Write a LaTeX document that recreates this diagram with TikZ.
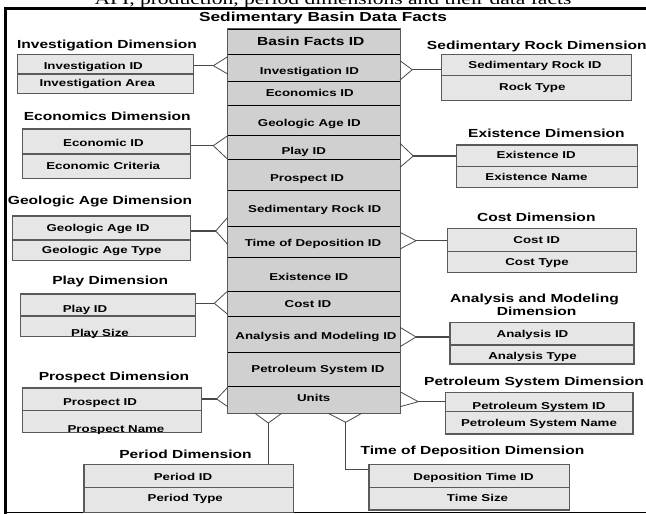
\documentclass[tikz,border=0pt]{standalone}
\usepackage{fontspec}
\usetikzlibrary{fit}
\newfontfamily\dfont[FakeStretch=1.33]{Liberation Sans}
\newfontfamily\cfont[FakeStretch=1.33]{Liberation Serif}
\definecolor{dimfill}{HTML}{E6E6E6}
\definecolor{factfill}{HTML}{D0D0D0}
\definecolor{edge}{HTML}{5A5A5A}
\definecolor{conn}{HTML}{484848}
\begin{document}
\begin{tikzpicture}[x=1pt,y=-1pt,
  dcell/.style={draw=edge, fill=dimfill, line width=1.1pt, inner sep=0pt},
  fcell/.style={draw=black, fill=factfill, line width=0.9pt, inner sep=0pt},
  ft/.style={font=\dfont\bfseries\fontsize{10}{12}\selectfont, inner sep=0pt, text height=7.2pt, text depth=0pt},
  tt/.style={font=\dfont\bfseries\fontsize{11.7}{14}\selectfont, inner sep=0pt, text height=8.4pt, text depth=0pt},
  bigt/.style={font=\dfont\bfseries\fontsize{13}{15}\selectfont, inner sep=0pt, text height=9.3pt, text depth=0pt},
  cn/.style={draw=conn, line width=1.1pt},
  cf/.style={draw=conn, line width=0.8pt},
  frame/.style={draw=black}
]
\useasboundingbox (0,0) rectangle (646,514);

% caption (cut at top) and frame
\node[anchor=base, font=\cfont\fontsize{16.2}{18}\selectfont, inner sep=0pt] (cap) at (333,4.5) {API, production, period dimensions and their data facts};
\draw[frame, line width=2.7pt] (4,8.7) -- (652,8.7);
\draw[frame, line width=3.2pt] (5.6,7.4) -- (5.6,513.5);
\draw[frame, line width=1.3pt] (4,512.4) -- (652,512.4);

\node[bigt] (title) at (323,17) {Sedimentary Basin Data Facts};

% ---------- fact table ----------
\node[fcell, fit={(227.7,29) (400,54)}] (r0) {};
\node[fcell, fit={(227.7,54) (400,81)}] (r1) {};
\node[fcell, fit={(227.7,81) (400,105)}] (r2) {};
\node[fcell, fit={(227.7,105) (400,135.7)}] (r3) {};
\node[fcell, fit={(227.7,135.7) (400,159.3)}] (r4) {};
\node[fcell, fit={(227.7,159.3) (400,190)}] (r5) {};
\node[fcell, fit={(227.7,190) (400,226.7)}] (r6) {};
\node[fcell, fit={(227.7,226.7) (400,257.5)}] (r7) {};
\node[fcell, fit={(227.7,257.5) (400,291)}] (r8) {};
\node[fcell, fit={(227.7,291) (400,316.7)}] (r9) {};
\node[fcell, fit={(227.7,316.7) (400,352.3)}] (r10) {};
\node[fcell, fit={(227.7,352.3) (400,386.7)}] (r11) {};
\node[fcell, fit={(227.7,386.7) (400,413.3)}] (r12) {};
\draw[draw=edge, line width=1.3pt] (r0.north west) rectangle (r12.south east);

\node[tt] (t0) at (310.8,41) {Basin Facts ID};
\node[ft] (t1) at (309.5,70.7) {Investigation ID};
\node[ft] (t2) at (309.8,93.3) {Economics ID};
\node[ft] (t3) at (309.3,122.7) {Geologic Age ID};
\node[ft] (t4) at (303.7,150.7) {Play ID};
\node[ft] (t5) at (307,177.7) {Prospect ID};
\node[ft] (t6) at (314.7,209.3) {Sedimentary Rock ID};
\node[ft] (t7) at (313,243.3) {Time of Deposition ID};
\node[ft] (t8) at (308.8,276.7) {Existence ID};
\node[ft] (t9) at (308,304.3) {Cost ID};
\node[ft] (t10) at (316,336) {Analysis and Modeling ID};
\node[ft] (t11) at (318,369.3) {Petroleum System ID};
\node[ft] (t12) at (313.7,398.3) {Units};

% ---------- left dimensions ----------
\node[tt] (invH) at (107,44) {Investigation Dimension};
\node[dcell, fit={(17.3,54.3) (193.3,74)}] (inv1) {};
\node[dcell, fit={(17.3,74) (193.3,93.3)}] (inv2) {};
\node[ft] (invA) at (93.3,65.7) {Investigation ID};
\node[ft] (invB) at (97.3,83.3) {Investigation Area};

\node[tt] (ecoH) at (107.3,116.7) {Economics Dimension};
\node[dcell, fit={(22.3,129) (190.7,154)}] (eco1) {};
\node[dcell, fit={(22.3,154) (190.7,178.3)}] (eco2) {};
\node[ft] (ecoA) at (103.5,143.3) {Economic ID};
\node[ft] (ecoB) at (103.2,165.7) {Economic Criteria};

\node[tt] (gaH) at (100,200) {Geologic Age Dimension};
\node[dcell, fit={(12.3,216) (190.7,240)}] (ga1) {};
\node[dcell, fit={(12.3,240) (190.7,260.7)}] (ga2) {};
\node[ft] (gaA) at (98,227.7) {Geologic Age ID};
\node[ft] (gaB) at (101.7,250) {Geologic Age Type};

\node[tt] (plH) at (110.2,280.7) {Play Dimension};
\node[dcell, fit={(20.7,294) (195.7,316)}] (pl1) {};
\node[dcell, fit={(20.7,316) (195.7,336.7)}] (pl2) {};
\node[ft] (plA) at (85,309) {Play ID};
\node[ft] (plB) at (100,332.5) {Play Size};

\node[tt] (prH) at (114,376) {Prospect Dimension};
\node[dcell, fit={(22.6,388) (201.6,410.7)}] (pr1) {};
\node[dcell, fit={(22.6,410.7) (201.6,432.7)}] (pr2) {};
\node[ft] (prA) at (100,401.7) {Prospect ID};
\node[ft] (prB) at (116,428.8) {Prospect Name};

% ---------- right dimensions ----------
\node[tt] (srH) at (536.8,45) {Sedimentary Rock Dimension};
\node[dcell, fit={(441.7,54.3) (631.7,75.7)}] (sr1) {};
\node[dcell, fit={(441.7,75.7) (631.7,100.7)}] (sr2) {};
\node[ft] (srA) at (535,65) {Sedimentary Rock ID};
\node[ft] (srB) at (532.3,86.7) {Rock Type};

\node[tt] (exH) at (546.5,133.3) {Existence Dimension};
\node[dcell, fit={(456.7,145) (637.3,166.7)}] (ex1) {};
\node[dcell, fit={(456.7,166.7) (637.3,187.3)}] (ex2) {};
\node[ft] (exA) at (536.2,155) {Existence ID};
\node[ft] (exB) at (536.5,176.7) {Existence Name};

\node[tt] (coH) at (536.3,217.3) {Cost Dimension};
\node[dcell, fit={(447.7,228.3) (636.7,251.7)}] (co1) {};
\node[dcell, fit={(447.7,251.7) (636.7,272.3)}] (co2) {};
\node[ft] (coA) at (536.7,240) {Cost ID};
\node[ft] (coB) at (537,261.7) {Cost Type};

\node[tt] (anH) at (534.5,298.3) {Analysis and Modeling};
\node[tt] (anH2) at (536.7,311) {Dimension};
\node[dcell, fit={(450,322.3) (634,345)}] (an1) {};
\node[dcell, fit={(450,345) (634,364)}] (an2) {};
\node[ft] (anA) at (532.5,334.3) {Analysis ID};
\node[ft] (anB) at (532.5,355.7) {Analysis Type};

\node[tt] (psH) at (534,381.7) {Petroleum System Dimension};
\node[dcell, fit={(445.7,392.3) (633,411.7)}] (ps1) {};
\node[dcell, fit={(445.7,411.7) (633,434)}] (ps2) {};
\node[ft] (psA) at (539,405.7) {Petroleum System ID};
\node[ft] (psB) at (539,423.3) {Petroleum System Name};

% ---------- bottom dimensions ----------
\node[tt] (peH) at (185.5,454.3) {Period Dimension};
\node[dcell, fit={(84,464.3) (293.4,487.7)}] (pe1) {};
\node[dcell, fit={(84,487.7) (293.4,512.4)}] (pe2) {};
\node[ft] (peA) at (183,476.7) {Period ID};
\node[ft] (peB) at (185.3,498.3) {Period Type};

\node[tt] (tdH) at (472.5,450.7) {Time of Deposition Dimension};
\node[dcell, fit={(369,464.3) (569.5,487.7)}] (td1) {};
\node[dcell, fit={(369,487.7) (569.5,510)}] (td2) {};
\node[ft] (tdA) at (473.5,476.7) {Deposition Time ID};
\node[ft] (tdB) at (477.5,498) {Time Size};

% ---------- connectors (crow's feet at the fact table) ----------
\coordinate (aInv) at (213.3,65.7);
\draw[cn] (inv1.east |- aInv) -- (aInv);
\draw[cf] (aInv) -- ++(14.4,-9) (aInv) -- ++(14.4,8.3);

\coordinate (aEco) at (213.3,145.7);
\draw[cn] (eco1.east |- aEco) -- (aEco);
\draw[cf] (aEco) -- ++(14.4,-10) (aEco) -- ++(14.4,13.6);

\coordinate (aGa) at (215.7,231);
\draw[cn] (ga1.east |- aGa) -- (aGa);
\draw[cf] (aGa) -- ++(12,-13.7) (aGa) -- ++(12,13.3);

\coordinate (aPl) at (214.3,303.3);
\draw[cn] (pl1.east |- aPl) -- (aPl);
\draw[cf] (aPl) -- ++(13.4,-12.3) (aPl) -- ++(13.4,11);

\coordinate (aPr) at (216.7,399);
\draw[cn] (pr1.east |- aPr) -- (aPr);
\draw[cf] (aPr) -- ++(11,-11.7) (aPr) -- ++(11,7.7);

\coordinate (aSr) at (412.3,69.7);
\draw[cn] (aSr) -- (sr1.west |- aSr);
\draw[cf] (aSr) -- ++(-12.3,-9) (aSr) -- ++(-12.3,10.3);

\coordinate (aEx) at (413.3,156);
\draw[cn] (aEx) -- (ex1.west |- aEx);
\draw[cf] (aEx) -- ++(-13.3,-12.7) (aEx) -- ++(-13.3,11.3);

\coordinate (aCo) at (416,240.7);
\draw[cn] (aCo) -- (co1.west |- aCo);
\draw[cf] (aCo) -- ++(-16,-8.4) (aCo) -- ++(-16,8.3);

\coordinate (aAn) at (416,337);
\draw[cn] (aAn) -- (an1.west |- aAn);
\draw[cf] (aAn) -- ++(-16,-9.7) (aAn) -- ++(-16,9.7);

\coordinate (aPs) at (418.3,401.7);
\draw[cn] (aPs) -- (ps1.west |- aPs);
\draw[cf] (aPs) -- ++(-18.3,-10) (aPs) -- ++(-18.3,5);

\coordinate (aPe) at (268.3,423);
\draw[cn] (aPe) -- (aPe |- pe1.north);
\draw[cf] (aPe) -- ++(-13.3,-9.7) (aPe) -- ++(13.4,-9.7);

\coordinate (aTd) at (345.7,422.3);
\coordinate (bTd) at (345.7,469.3);
\draw[cn] (aTd) -- (bTd) -- (td1.west |- bTd);
\draw[cf] (aTd) -- ++(-17.4,-9) (aTd) -- ++(16,-9);
\end{tikzpicture}
\end{document}
